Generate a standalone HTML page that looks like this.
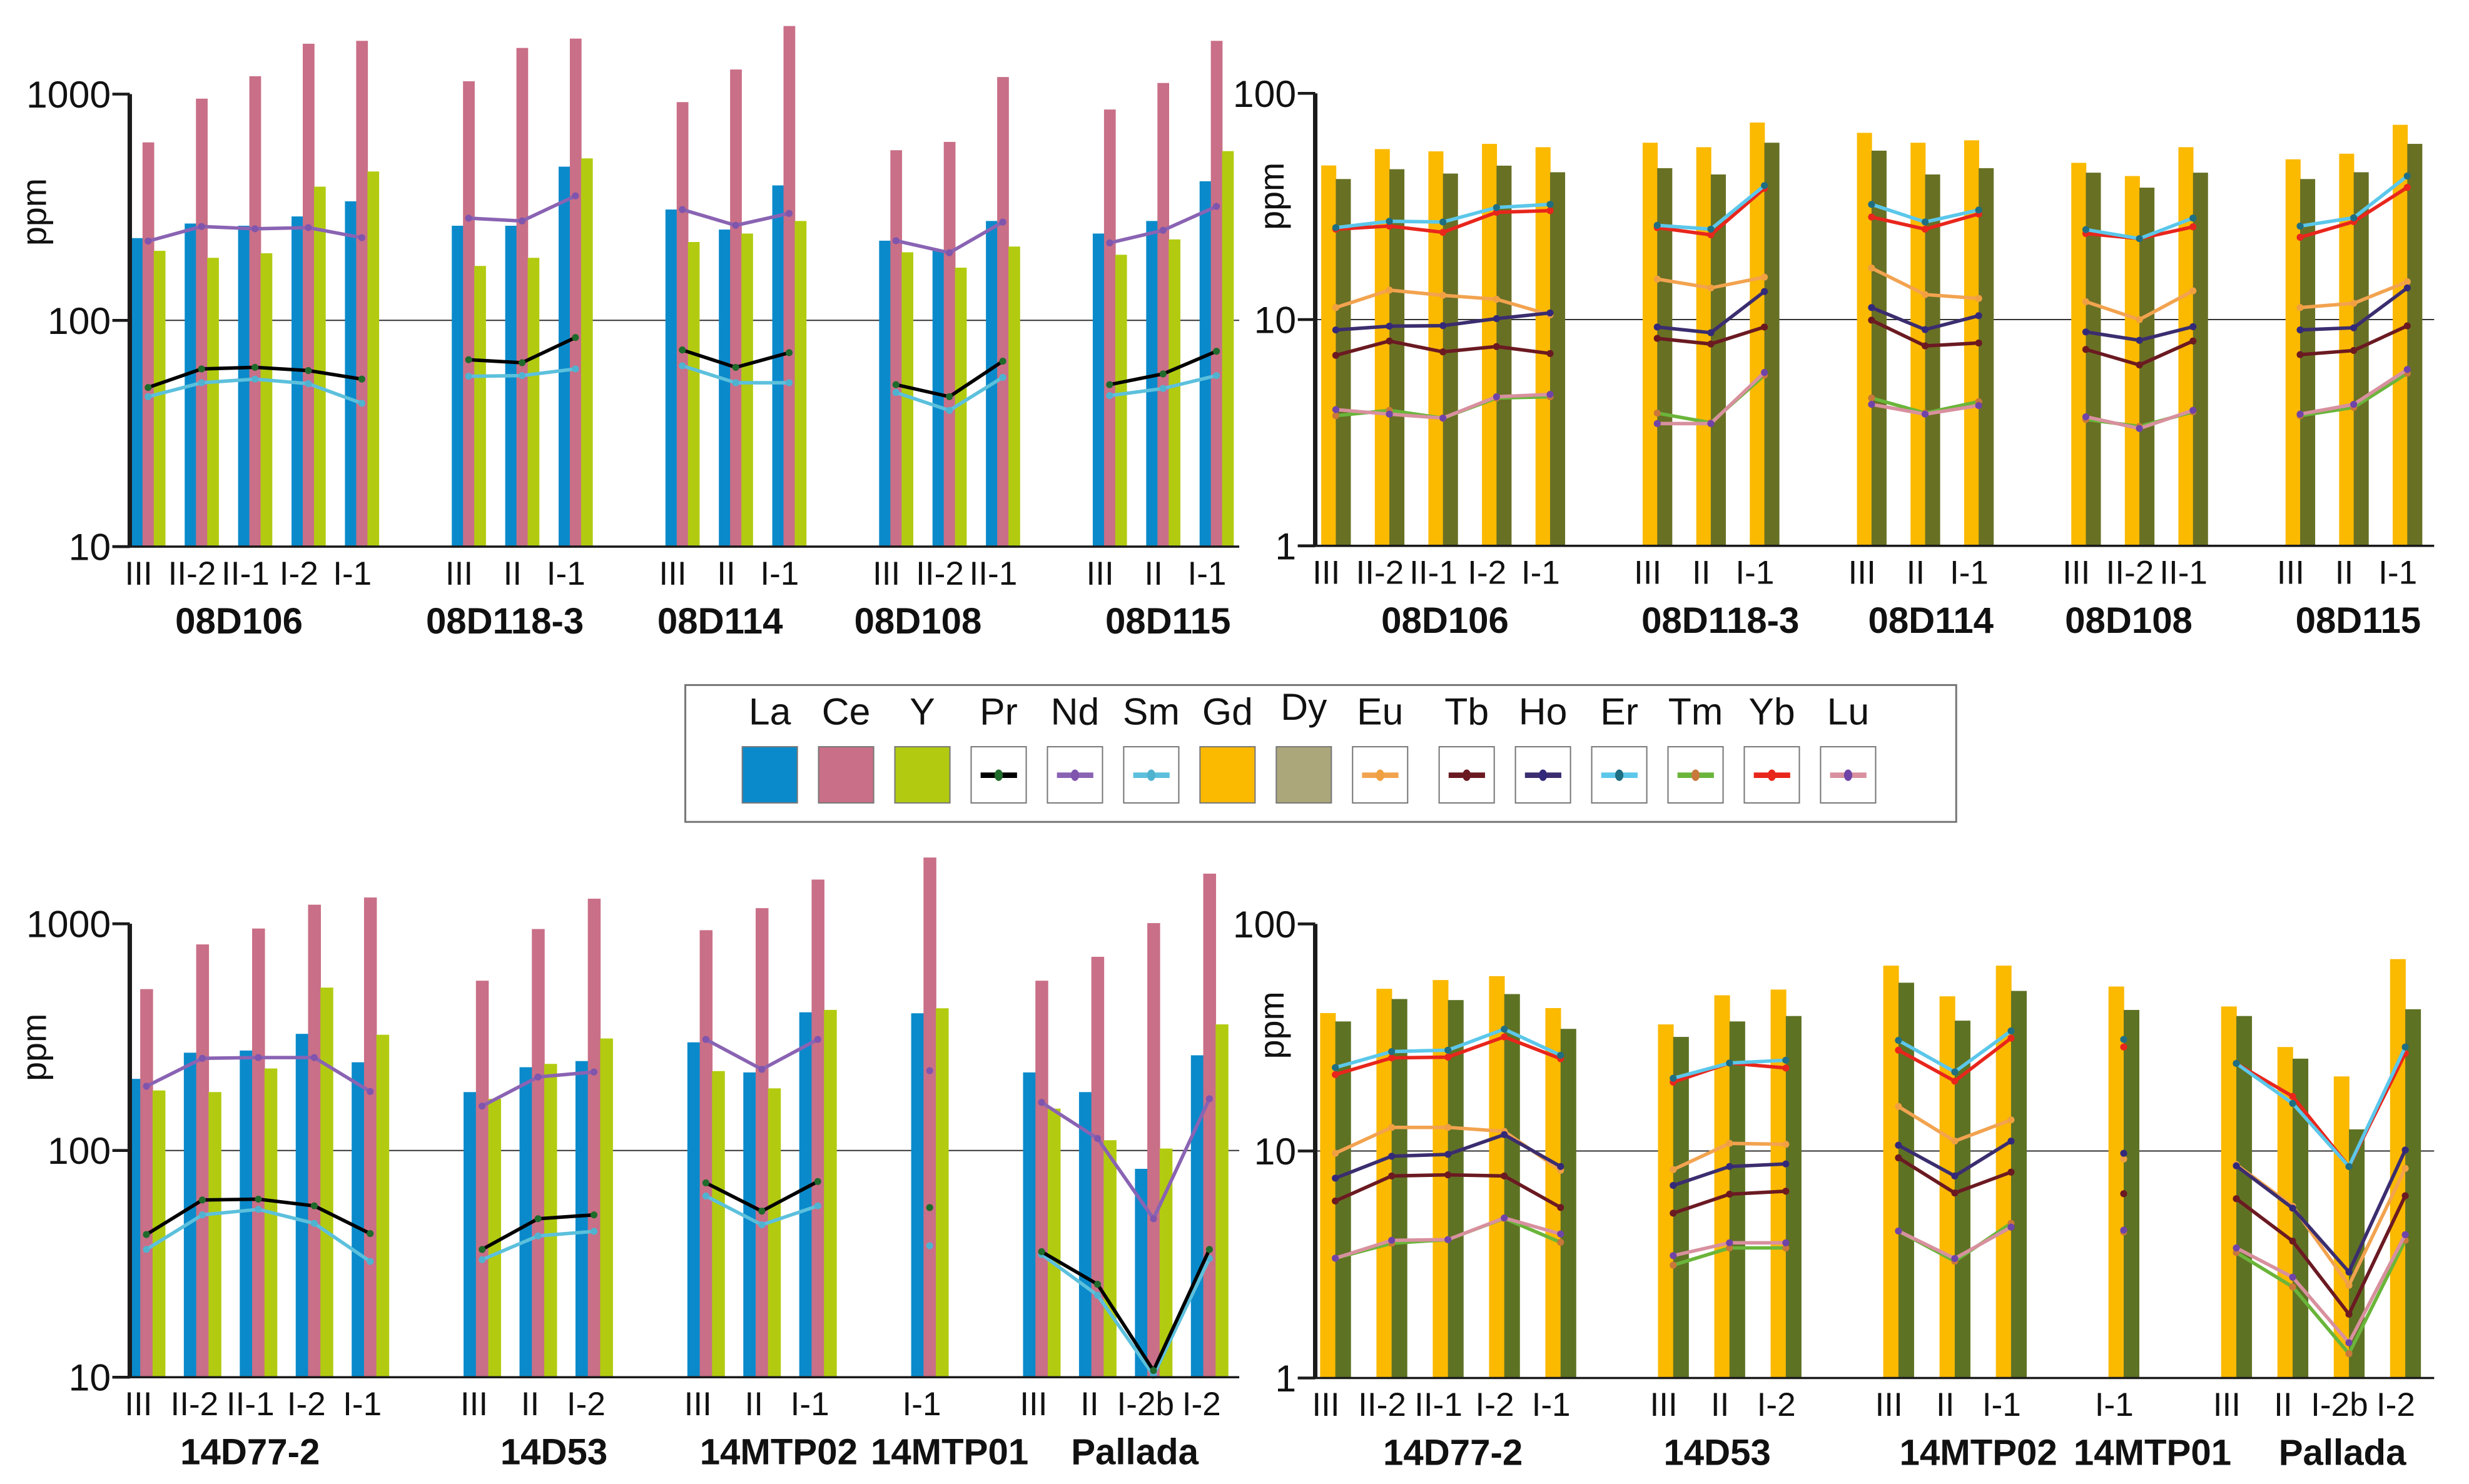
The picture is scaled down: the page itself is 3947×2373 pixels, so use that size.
<!DOCTYPE html>
<html><head><meta charset="utf-8"><style>
html,body{margin:0;padding:0;background:#fff;}
svg{display:block;font-family:"Liberation Sans",sans-serif;}
</style></head><body>
<svg id="chart" width="3947" height="2373" viewBox="0 0 1560 938" preserveAspectRatio="none" xmlns="http://www.w3.org/2000/svg">
<g id="legend">
<rect x="433" y="433" width="803" height="86.5" fill="#fff" stroke="#777" stroke-width="1.2"/>
</g>
</svg>
<script>
// ---------- data ----------
const topGroups = ["08D106","08D118-3","08D114","08D108","08D115"];
const topGroupOf = [0,0,0,0,0, 1,1,1, 2,2,2, 3,3,3, 4,4,4];
const topSamples = ["III","II-2","II-1","I-2","I-1", "III","II","I-1", "III","II","I-1", "III","II-2","II-1", "III","II","I-1"];
const topSlots = [0,1,2,3,4, 6,7,8, 10,11,12, 14,15,16, 18,19,20];

const tlLa = [231,268,262,288,336, 262,262,478, 309,252,395, 225,204,275, 242,275,412];
const tlCe = [612,955,1200,1670,1720, 1140,1600,1760, 922,1285,2000, 565,615,1190, 855,1120,1720];
const tlY  = [203,189,198,390,455, 174,189,520, 222,242,275, 200,171,212, 195,228,560];
const tlPr = [50.5,61,62,60,55, 67,65,84, 74,62,72, 52,46,66, 52,58,73];
const tlNd = [224,260,254,257,232, 283,275,355, 309,263,297, 225,199,272, 220,250,319];
const tlSm = [46,53,55,52.5,43, 56.6,57,61, 63,53,53, 48,40,56, 46.5,50,57];

const trGd = [48,56.7,55.4,59.8,57.8, 60.5,57.8,74.3, 66.9,60.5,62, 49.3,43.1,57.8, 51.1,54.1,72.6];
const trDy = [41.8,46.2,44.2,47.9,44.8, 46.7,43.8,60.5, 55.8,43.8,46.7, 44.6,38.3,44.6, 41.8,44.8,59.8];
const trEr = [25.5,27.2,27,31.3,32.3, 26.1,25.1,39.1, 32.3,27,30.5, 25,22.8,28.1, 25.9,28.2,43.1];
const trYb = [25.1,25.9,24.3,29.8,30.3, 25.5,23.7,38, 28.4,25.1,29.3, 24,22.8,25.7, 23.1,27.1,38.4];
const trEu = [11.3,13.5,12.8,12.3,10.5, 15.1,13.8,15.4, 16.9,12.9,12.4, 12,10,13.4, 11.3,11.8,14.7];
const trHo = [9.0,9.35,9.4,10.1,10.7, 9.27,8.75,13.3, 11.3,9.03,10.4, 8.82,8.1,9.3, 9.0,9.2,13.8];
const trTb = [6.95,8.04,7.2,7.6,7.08, 8.26,7.8,9.27, 9.94,7.65,7.88, 7.38,6.3,8.04, 7.0,7.3,9.38];
const trTm = [3.76,3.97,3.67,4.5,4.56, 3.86,3.5,5.68, 4.5,3.86,4.34, 3.62,3.37,3.91, 3.76,4.09,5.79];
const trLu = [4.0,3.82,3.67,4.56,4.67, 3.47,3.47,5.84, 4.22,3.82,4.17, 3.72,3.3,3.97, 3.82,4.22,6.02];

const botGroups = ["14D77-2","14D53","14MTP02","14MTP01","Pallada"];
const botGroupOf = [0,0,0,0,0, 1,1,1, 2,2,2, 3, 4,4,4,4];
const botSamples = ["III","II-2","II-1","I-2","I-1", "III","II","I-2", "III","II","I-1", "I-1", "III","II","I-2b","I-2"];
const botSlots = [0,1,2,3,4, 6,7,8, 10,11,12, 14, 16,17,18,19];

const blLa = [207,270,276,327,245, 181,233,248, 300,221,407, 403, 221,181,83,263];
const blCe = [515,811,953,1214,1306, 561,948,1290, 937,1172,1567, 1960, 561,715,1007,1664];
const blY  = [184,181,230,523,324, 169,241,312, 224,188,417, 424, 153,111,102,360];
const blPr = [42.6,60.5,61,57,43, 36.6,50,52, 72,54,73, 56, 35.8,25.7,10.7,36.6];
const blNd = [192,255,257,257,182, 157,211,222, 309,228,309, 225, 163,113,50,169];
const blSm = [36.6,52,55,47.7,32.4, 33,42,44, 63,47,57, 38, 34.8,23,10.2,33.4];

const brGd = [40.5,51.8,56.6,58.9,42.6, 36.1,48.5,51.4, 65.5,48,65.5, 53, 43.3,28.7,21.3,70];
const brDy = [37.2,46.7,46.2,49.1,34.5, 31.8,37.2,39.3, 55.1,37.5,50.7, 41.8, 39.3,25.5,12.45,42.1];
const brEr = [23.3,27.4,27.8,34.4,26.4, 20.9,24.4,25.1, 30.7,22.3,33.8, 31, 24.3,16.2,8.54,28.7];
const brYb = [21.7,25.7,25.9,31.8,25.5, 20.1,24.4,23.2, 27.8,20.3,31.4, 28.7, 24.3,17.4,8.54,26.9];
const brEu = [9.77,12.7,12.7,12.2,8.22, 8.28,10.8,10.7, 15.7,11.05,13.7, 9.22, 8.71,5.71,2.56,8.38];
const brHo = [7.59,9.48,9.66,11.8,8.54, 7.05,8.54,8.77, 10.6,7.76,11.05, 9.77, 8.6,5.6,2.93,10.1];
const brTb = [6.02,7.76,7.85,7.76,5.64, 5.32,6.45,6.65, 9.33,6.53,8.07, 6.48, 6.16,4.01,1.91,6.35];
const brTm = [3.37,3.92,4.07,5.05,3.96, 3.14,3.74,3.74, 4.44,3.27,4.8, 4.4, 3.57,2.52,1.28,4.04];
const brLu = [3.37,4.04,4.07,5.07,4.31, 3.46,3.94,3.94, 4.44,3.36,4.62, 4.48, 3.74,2.78,1.43,4.28];

const leftTicks = [10,100,1000];
const rightTicks = [1,10,100];
const legendLabels = ["La","Ce","Y","Pr","Nd","Sm","Gd","Dy","Eu","Tb","Ho","Er","Tm","Yb","Lu"];

// ---------- styles ----------
const C = {La:"#0a8acb",Ce:"#c96f87",Y:"#b2cb10",Gd:"#fbb900",Dy:"#687024",DyLeg:"#aca67b"};
const LINE = {
 Pr:{c:"#000",d:"#1f6b2b"}, Nd:{c:"#8a63b3",d:"#7f55ad"}, Sm:{c:"#5cc0dc",d:"#4fb3d0"},
 Eu:{c:"#f2a34f",d:"#f0a040"}, Tb:{c:"#6b1a22",d:"#6b1a22"}, Ho:{c:"#3b2d6f",d:"#33297a"},
 Er:{c:"#5bc7ea",d:"#1f6e82"}, Tm:{c:"#6ab53a",d:"#c8783a"}, Yb:{c:"#e8261c",d:"#e8261c"},
 Lu:{c:"#d8909e",d:"#6f44a8"}
};
const NS="http://www.w3.org/2000/svg";
const svg=document.getElementById('chart');
function el(tag,attrs,parent){const e=document.createElementNS(NS,tag);for(const k in attrs)e.setAttribute(k,attrs[k]);(parent||svg).appendChild(e);return e;}

function makePanel(p){
  const g=el('g',{});
  
  
  const yv=v=>p.base-(Math.log10(v)-Math.log10(p.min))*p.dec;
  const xs=i=>p.x0+p.slots[i]*p.step;
  const gl=el('line',{x1:p.axisX,x2:p.xEnd,y1:yv(p.grid),y2:yv(p.grid),stroke:"#333",'stroke-width':0.8},g);
  
  
  const nb=p.bars.length;
  p.bars.forEach((b,bi)=>{
    b.vals.forEach((v,i)=>{
      const c=xs(i);
      const left=c-nb*p.bw/2+bi*p.bw;
      const y=yv(v);
      const r=el('rect',{x:left,y:y,width:p.bw+0.3,height:p.base-y,fill:b.color},g);
      
      
    });
  });
  p.lines.forEach(ln=>{
    const st=LINE[ln.key];
    const groups={};
    ln.vals.forEach((v,i)=>{(groups[p.groupOf[i]]=groups[p.groupOf[i]]||[]).push(i);});
    Object.values(groups).forEach(idx=>{
      if(idx.length>1){
        const pl=el('polyline',{points:idx.map(i=>xs(i)+','+yv(ln.vals[i])).join(' '),fill:'none',stroke:st.c,'stroke-width':2.2,'stroke-linejoin':'round'},g);
        
        
      }
      idx.forEach(i=>{
        const d=el('circle',{cx:xs(i),cy:yv(ln.vals[i]),r:2.2,fill:st.d},g);
        
        
      });
    });
  });
  const xa=el('line',{x1:p.axisX-11,x2:p.xEnd,y1:p.base,y2:p.base,stroke:"#1a1a1a",'stroke-width':1.4},g);
  
  
  const ya=el('line',{x1:p.axisX,x2:p.axisX,y1:yv(p.ticks[p.ticks.length-1]),y2:p.base,stroke:"#1a1a1a",'stroke-width':2.8},g);
  
  
  p.ticks.forEach(t=>{
    const tk=el('line',{x1:p.axisX-11,x2:p.axisX,y1:yv(t),y2:yv(t),stroke:"#1a1a1a",'stroke-width':1.8},g);
    
    
    const tl=el('text',{x:p.axisX-12,y:yv(t)+8.5,'text-anchor':'end','font-size':24,fill:'#111'},g);
    tl.textContent=t;
    
    
  });
  const yt=el('text',{x:0,y:0,'text-anchor':'middle','font-size':22,fill:'#111',transform:`translate(${p.ppmX},${p.ppmY}) rotate(-90)`},g);
  yt.textContent='ppm';
  
  
  p.samples.forEach((s,i)=>{
    const t=el('text',{x:xs(i)+p.sdx,y:p.base+24,'text-anchor':'middle','font-size':21,fill:'#111'},g);
    t.textContent=s;
    
    
  });
  p.groups.forEach((nm,gi)=>{
    const t=el('text',{x:p.gx[gi],y:p.base+55,'text-anchor':'middle','font-size':23,'font-weight':'bold',fill:'#111'},g);
    t.textContent=nm;
    
    
  });
}

makePanel({name:'panel-top-left',base:345.5,min:10,dec:143,grid:100,ticks:leftTicks,axisX:82,xEnd:783,
  x0:93.6,step:33.75,slots:topSlots,groupOf:topGroupOf,samples:topSamples,groups:topGroups,
  gx:[151,319,455,580,738],sdx:-6,bw:7.1,ppmX:29,ppmY:134,
  bars:[{key:'La',vals:tlLa,color:C.La},{key:'Ce',vals:tlCe,color:C.Ce},{key:'Y',vals:tlY,color:C.Y}],
  lines:[{key:'Nd',vals:tlNd},{key:'Sm',vals:tlSm},{key:'Pr',vals:tlPr}]});
makePanel({name:'panel-top-right',base:345,min:1,dec:143,grid:10,ticks:rightTicks,axisX:831,xEnd:1538,
  x0:844,step:33.85,slots:topSlots,groupOf:topGroupOf,samples:topSamples,groups:topGroups,
  gx:[913,1087,1220,1345,1490],sdx:-6,bw:9.2,ppmX:811,ppmY:124,
  bars:[{key:'Gd',vals:trGd,color:C.Gd},{key:'Dy',vals:trDy,color:C.Dy}],
  lines:[{key:'Eu',vals:trEu},{key:'Tb',vals:trTb},{key:'Ho',vals:trHo},{key:'Tm',vals:trTm},{key:'Lu',vals:trLu},{key:'Yb',vals:trYb},{key:'Er',vals:trEr}]});
makePanel({name:'panel-bottom-left',base:870.5,min:10,dec:143.3,grid:100,ticks:leftTicks,axisX:82,xEnd:783,
  x0:92.5,step:35.35,slots:botSlots,groupOf:botGroupOf,samples:botSamples,groups:botGroups,
  gx:[158,350,492,600,717],sdx:-5,bw:7.8,ppmX:29,ppmY:662,
  bars:[{key:'La',vals:blLa,color:C.La},{key:'Ce',vals:blCe,color:C.Ce},{key:'Y',vals:blY,color:C.Y}],
  lines:[{key:'Nd',vals:blNd},{key:'Sm',vals:blSm},{key:'Pr',vals:blPr}]});
makePanel({name:'panel-bottom-right',base:871,min:1,dec:143.5,grid:10,ticks:rightTicks,axisX:831,xEnd:1538,
  x0:843.7,step:35.58,slots:botSlots,groupOf:botGroupOf,samples:botSamples,groups:botGroups,
  gx:[918,1085,1250,1360,1480],sdx:-6,bw:9.6,ppmX:811,ppmY:648,
  bars:[{key:'Gd',vals:brGd,color:C.Gd},{key:'Dy',vals:brDy,color:"#5e7224"}],
  lines:[{key:'Eu',vals:brEu},{key:'Tb',vals:brTb},{key:'Ho',vals:brHo},{key:'Tm',vals:brTm},{key:'Lu',vals:brLu},{key:'Yb',vals:brYb},{key:'Er',vals:brEr}]});

// legend
const lg=document.getElementById('legend');
legendLabels.forEach((lab,i)=>{
  const x=469+i*48.2+(i>=9?6.5:0);
  const g=el('g',{},lg);
  
  
  const t=el('text',{x:x+17.4,y:lab==='Dy'?455:458,'text-anchor':'middle','font-size':24,fill:'#111'},g);
  t.textContent=lab;
  const fills={La:C.La,Ce:C.Ce,Y:C.Y,Gd:C.Gd,Dy:C.DyLeg};
  el('rect',{x:x,y:472,width:34.8,height:35.5,fill:fills[lab]||'#fff',stroke:'#777','stroke-width':0.8},g);
  if(LINE[lab]){
    el('line',{x1:x+6,x2:x+29,y1:490,y2:490,stroke:LINE[lab].c,'stroke-width':3.5},g);
    el('ellipse',{cx:x+17.4,cy:490,rx:2.6,ry:3.6,fill:LINE[lab].d},g);
  }
});
</script>
</body></html>
